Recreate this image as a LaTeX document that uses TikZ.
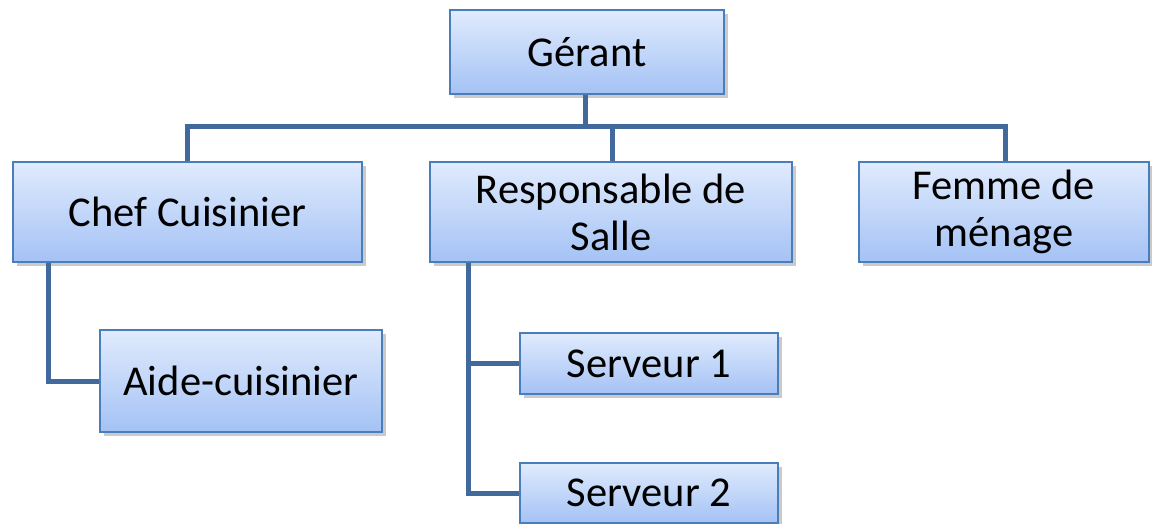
\documentclass[tikz,border=0pt]{standalone}
\usepackage{fontspec}
\setmainfont{Carlito}
\usetikzlibrary{shadows}
\definecolor{boxline}{HTML}{4A7EBB}
\definecolor{boxtop}{HTML}{E0EBFD}
\definecolor{boxbottom}{HTML}{A4C2F5}
\definecolor{linkline}{HTML}{41699B}
\begin{document}
\begin{tikzpicture}[
        x=1pt, y=-1pt,
        every node/.style={
            font=\fontsize{42.5}{47}\selectfont,
            draw=boxline,
            line width=2.5pt,
            top color=boxtop,
            bottom color=boxbottom,
            drop shadow={shadow xshift=4pt, shadow yshift=-4pt, opacity=0.35, fill=black!60},
            rectangle,
            align=center,
            inner sep=0pt},
        link/.style={draw=linkline, line width=5pt}]
        \useasboundingbox (0,0) rectangle (1152,524);

        \node[minimum width=274pt, minimum height=84pt] (G) at (587,52) {Gérant};
        \node[minimum width=349pt, minimum height=100pt] (C) at (187.5,212) {Chef Cuisinier};
        \node[minimum width=362pt, minimum height=100pt] (R) at (611,212) {Responsable de\\Salle};
        \node[minimum width=290pt, minimum height=100pt] (F) at (1004,212) {Femme de\\ménage};
        \node[minimum width=282pt, minimum height=102pt] (A) at (241,381) {Aide-cuisinier};
        \node[minimum width=258pt, minimum height=61pt] (S1) at (649,363.5) {Serveur 1};
        \node[minimum width=258pt, minimum height=60pt] (S2) at (649,493) {Serveur 2};

        \coordinate (bus) at (585,127);

        \draw[link] (G.south -| bus) -- (bus);
        \draw[link] (C.north -| 187,0) |- (bus) -| (F.north -| 1005,0);
        \draw[link] (R.north -| 612,0) -- (612,127);
        \draw[link] (C.south -| 48,0) |- (A.west);
        \draw[link] (R.south -| 468,0) |- (S1.west);
        \draw[link] (R.south -| 468,0) |- (S2.west);
    \end{tikzpicture}
\end{document}
